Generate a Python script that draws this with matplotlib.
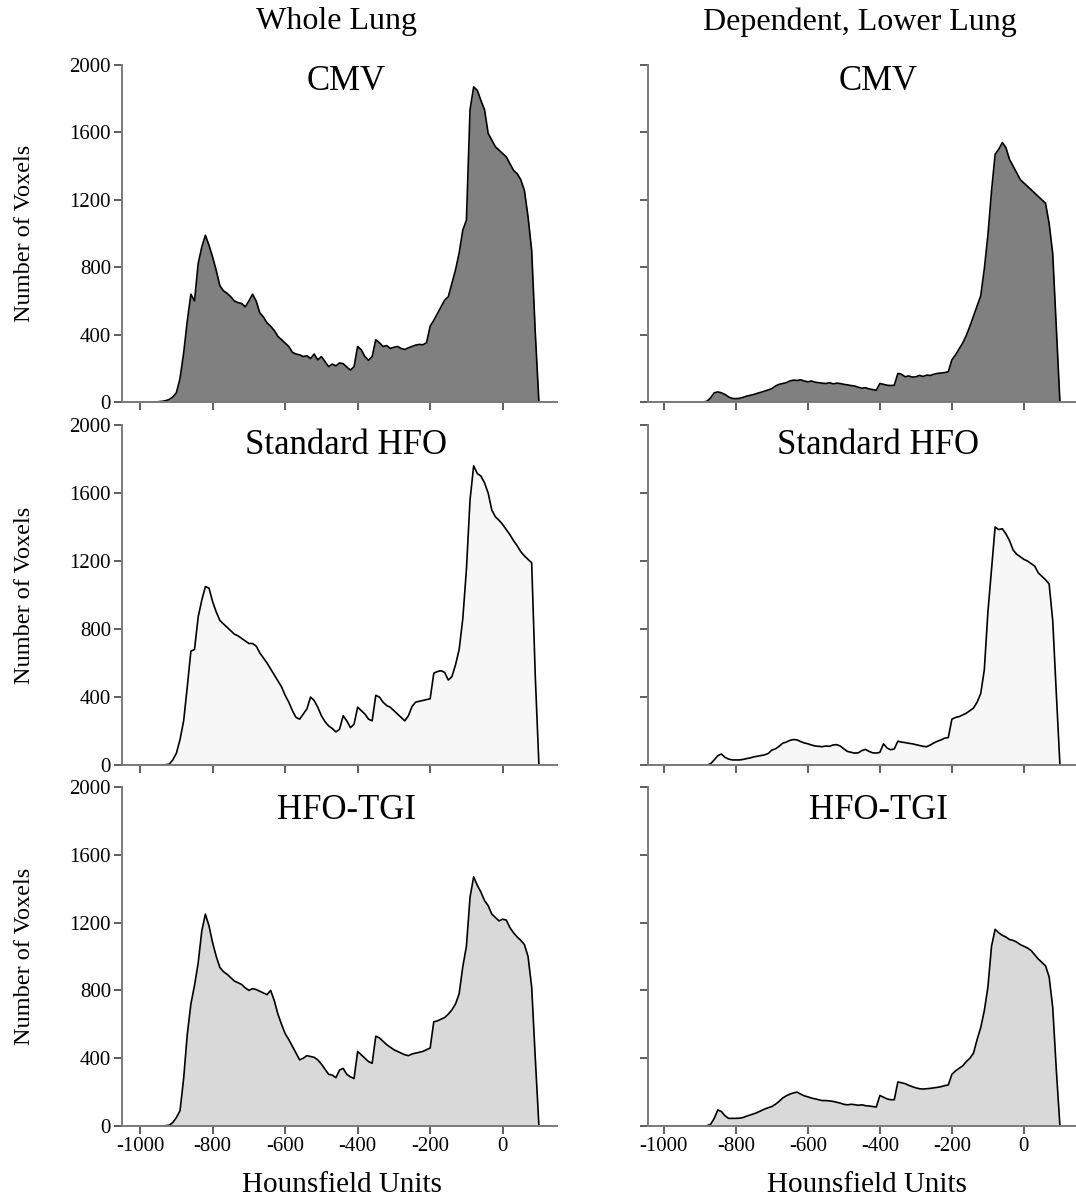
import numpy as np
import matplotlib.pyplot as plt

plt.rcParams['font.family'] = ['Liberation Serif', 'DejaVu Serif']
plt.rcParams['axes.unicode_minus'] = False

# Hounsfield unit bins, 10 HU wide
hu = np.arange(-1000, 101, 10)

# voxel counts per bin - whole lung
whole_cmv = [
    0, 0, 0, 0, 0, 2, 4, 8, 15, 30,
    55, 140, 290, 480, 640, 600, 820, 920, 990, 930,
    860, 780, 690, 660, 645, 625, 600, 590, 585, 565,
    600, 640, 600, 530, 505, 470, 450, 425, 390, 370,
    350, 330, 295, 285, 280, 270, 275, 258, 285, 250,
    270, 240, 210, 225, 215, 232, 228, 208, 190, 210,
    330, 310, 270, 248, 270, 370, 352, 330, 335, 318,
    325, 330, 318, 312, 322, 330, 338, 342, 340, 352,
    450, 485, 525, 565, 605, 625, 705, 785, 885, 1020,
    1080, 1735, 1870, 1850, 1790, 1735, 1595, 1555, 1515, 1495,
    1475, 1455, 1415, 1375, 1355, 1320, 1255, 1100, 900, 410,
    0,
]
whole_std = [
    0, 0, 0, 0, 0, 0, 0, 2, 5, 30,
    70, 150, 260, 460, 670, 680, 870, 970, 1050, 1040,
    960, 900, 850, 830, 810, 790, 770, 760, 745, 730,
    715, 715, 700, 660, 630, 600, 565, 530, 495, 460,
    410, 370, 320, 280, 270, 300, 330, 400, 380, 340,
    290, 255, 230, 215, 195, 210, 290, 260, 220, 240,
    340, 320, 300, 270, 260, 410, 400, 370, 350, 340,
    320, 300, 280, 260, 290, 345, 370, 375, 380, 385,
    390, 540, 550, 555, 545, 500, 520, 590, 680, 860,
    1150, 1560, 1760, 1715, 1700, 1660, 1600, 1500, 1460, 1440,
    1415, 1385, 1355, 1320, 1290, 1255, 1230, 1210, 1190, 520,
    0,
]
whole_tgi = [
    0, 0, 0, 0, 0, 0, 0, 2, 5, 20,
    50, 90, 280, 540, 720, 830, 960, 1150, 1250, 1180,
    1080, 1000, 935, 910, 895, 875, 855, 845, 835, 815,
    800, 810, 805, 795, 785, 775, 800, 740, 660, 600,
    545, 510, 470, 430, 390, 400, 415, 410, 405, 390,
    365, 335, 305, 300, 285, 330, 340, 305, 290, 280,
    440, 420, 400, 380, 370, 530, 520, 500, 480, 465,
    450, 440, 430, 420, 415, 425, 430, 435, 440, 450,
    460, 615, 620, 630, 640, 660, 685, 720, 780, 940,
    1060, 1350, 1470, 1420, 1380, 1330, 1300, 1250, 1230, 1210,
    1220, 1215, 1170, 1140, 1115, 1095, 1070, 1000, 820, 400,
    0,
]

# voxel counts per bin - dependent, lower lung
dep_cmv = [
    0, 0, 0, 0, 0, 0, 0, 0, 0, 0,
    0, 0, 5, 25, 55, 60, 55, 45, 30, 22,
    20, 22, 28, 35, 40, 45, 52, 58, 65, 72,
    80, 95, 105, 110, 115, 125, 130, 128, 132, 125,
    120, 125, 118, 115, 112, 110, 115, 108, 112, 110,
    105, 102, 98, 95, 88, 82, 85, 78, 74, 70,
    110, 105, 100, 98, 100, 170, 165, 150, 155, 148,
    150, 158, 152, 160, 158, 165, 170, 172, 175, 180,
    250, 280, 315, 350, 395, 450, 510, 570, 630, 790,
    990, 1250, 1470, 1500, 1540, 1510, 1440, 1400, 1360, 1320,
    1300, 1280, 1260, 1240, 1220, 1200, 1180, 1060, 880, 440,
    0,
]
dep_std = [
    0, 0, 0, 0, 0, 0, 0, 0, 0, 0,
    0, 0, 0, 8, 30, 55, 65, 45, 35, 30,
    30, 30, 33, 38, 42, 48, 52, 56, 60, 68,
    88, 95, 110, 128, 135, 145, 150, 148, 138, 130,
    125, 118, 112, 110, 108, 112, 110, 118, 120, 112,
    95, 80, 75, 70, 72, 85, 92, 80, 72, 70,
    75, 125, 100, 90, 95, 140, 135, 132, 128, 125,
    120, 115, 110, 108, 118, 130, 140, 148, 158, 162,
    270, 280, 285, 295, 305, 320, 335, 370, 420, 560,
    900, 1150, 1400, 1385, 1390, 1360, 1320, 1265, 1240, 1225,
    1210, 1200, 1185, 1170, 1130, 1110, 1090, 1065, 850, 420,
    0,
]
dep_tgi = [
    0, 0, 0, 0, 0, 0, 0, 0, 0, 0,
    0, 0, 2, 10, 45, 95, 85, 60, 45, 45,
    45, 46, 50, 58, 65, 72, 80, 90, 100, 108,
    115, 128, 145, 165, 178, 188, 195, 200, 188, 178,
    172, 165, 160, 155, 150, 150, 148, 145, 140, 135,
    128, 125, 128, 126, 122, 125, 120, 118, 115, 112,
    180, 170, 160, 155, 155, 260, 255, 250, 240, 232,
    225, 220, 218, 220, 222, 225, 228, 232, 238, 242,
    305, 325, 340, 355, 380, 400, 430, 510, 580, 680,
    820, 1060, 1160, 1140, 1125, 1115, 1100, 1095, 1085, 1070,
    1060, 1050, 1035, 1010, 985, 965, 945, 880, 700, 330,
    0,
]

col_titles = ["Whole Lung", "Dependent, Lower Lung"]
row_titles = ["CMV", "Standard HFO", "HFO-TGI"]
fills = ["#808080", "#f7f7f7", "#d9d9d9"]
panels = [[whole_cmv, dep_cmv], [whole_std, dep_std], [whole_tgi, dep_tgi]]

fig = plt.figure(figsize=(10.76, 11.98), dpi=100)

# axes boxes in figure fractions
col_x = [(0.1134, 0.4043, (-1050, 150)), (0.6022, 0.3996, (-1044, 150))]
row_y = [(0.6644, 0.2813, 0.950), (0.3614, 0.2838, 0.940), (0.0601, 0.2830, 0.932)]
title_x = [0.515, 0.535]

for r in range(3):
    b, h, ty = row_y[r]
    for c in range(2):
        l, w, xl = col_x[c]
        ax = fig.add_axes([l, b, w, h])
        vals = np.array(panels[r][c])
        ax.fill_between(hu, vals, 0, color=fills[r], lw=0)
        ax.plot(hu, vals, color="black", lw=1.2)

        ax.set_xlim(*xl)
        ax.set_ylim(0, 2000)
        ax.set_xticks(np.arange(-1000, 1, 200))
        ax.set_yticks(np.arange(0, 2001, 400))
        for side in ["top", "right"]:
            ax.spines[side].set_visible(False)
        for side in ["left", "bottom"]:
            ax.spines[side].set_color("#7a7a7a")
            ax.spines[side].set_linewidth(1.4)
        ax.tick_params(direction="out", length=6, width=1.1, color="#333333",
                       labelsize=15, pad=2)
        if c == 1:
            ax.tick_params(axis="y", labelleft=False)
        if r < 2:
            ax.tick_params(axis="x", labelbottom=False)

        ax.text(title_x[c], ty, row_titles[r], transform=ax.transAxes,
                ha="center", va="center", fontsize=25)

    fig.text(25 / 1076, b + h / 2, "Number of Voxels", rotation=90,
             ha="center", va="center", fontsize=17.5)

fig.text(336 / 1076, 1 - 22 / 1198, col_titles[0], ha="center", va="center", fontsize=23)
fig.text(860 / 1076, 1 - 22 / 1198, col_titles[1], ha="center", va="center", fontsize=23)
fig.text(342 / 1076, 1 - 1185 / 1198, "Hounsfield Units", ha="center", va="center", fontsize=21)
fig.text(867 / 1076, 1 - 1185 / 1198, "Hounsfield Units", ha="center", va="center", fontsize=21)

fig.savefig("out.png", dpi=100)
